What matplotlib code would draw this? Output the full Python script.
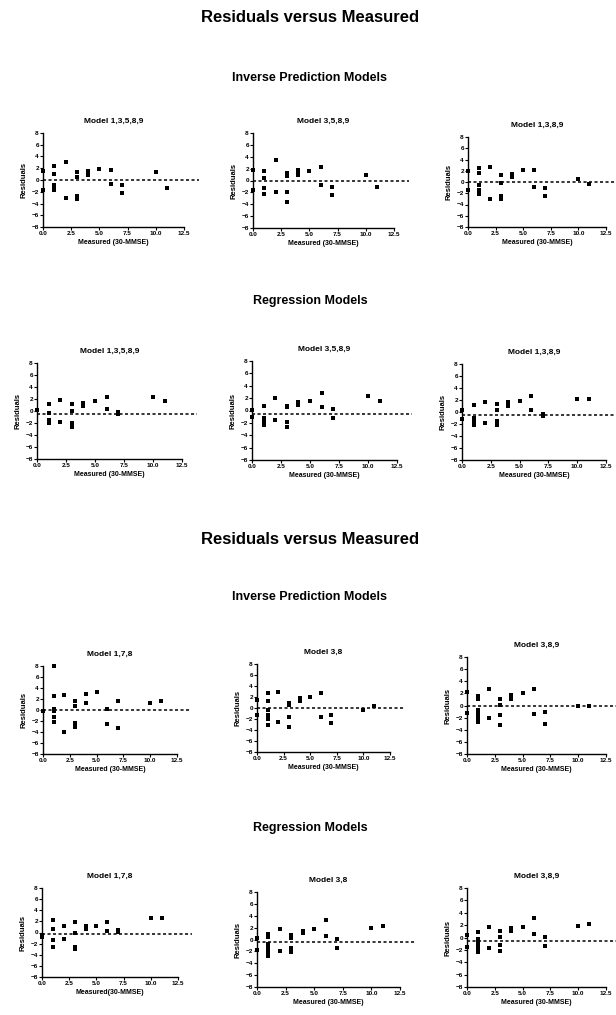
import numpy as np
import matplotlib.pyplot as plt

plt.rcParams['font.family'] = ['Liberation Sans', 'DejaVu Sans']
plt.rcParams['font.weight'] = 'bold'

W, H = 616, 1015

# top block - inverse prediction models
ip_13589_x = [0, 0, 1, 1, 1, 1, 1, 2, 2, 3, 3, 3, 3, 4, 4, 4, 5, 6, 6, 7, 7, 10, 11]
ip_13589_y = [1.5, -1.7, 2.4, 1.1, -0.9, -1.3, -1.7, 3.1, -3.0, 1.4, 0.5, -2.7, -3.2,
              1.5, 1.1, 0.9, 1.9, 1.7, -0.6, -0.9, -2.2, 1.3, -1.3]
ip_3589_x = [0, 0, 1, 1, 1, 1, 2, 2, 3, 3, 3, 3, 4, 4, 4, 5, 6, 6, 7, 7, 10, 11]
ip_3589_y = [1.7, -1.6, 1.6, 0.4, -1.2, -2.3, 3.4, -2.0, 1.2, 0.8, -2.0, -3.6,
             1.7, 1.2, 0.9, 1.6, 2.2, -0.8, -1.1, -2.4, 0.9, -1.1]
ip_1389_x = [0, 0, 1, 1, 1, 1, 1, 1, 2, 2, 3, 3, 3, 3, 4, 4, 5, 6, 6, 7, 7, 10, 11]
ip_1389_y = [1.9, -1.5, 2.5, 1.6, -0.5, -1.5, -2.0, -2.1, 2.6, -3.1, 1.3, -0.2, -2.4, -3.0,
             1.4, 0.9, 2.1, 2.1, -0.9, -1.1, -2.4, 0.6, -0.4]

# top block - regression models
rg_13589_x = [0, 1, 1, 1, 1, 2, 2, 3, 3, 3, 3, 4, 4, 5, 6, 6, 7, 7, 10, 11]
rg_13589_y = [0.1, 1.1, -0.3, -1.5, -2.0, 1.8, -1.8, 1.2, 0.0, -2.0, -2.7,
              1.4, 0.9, 1.6, 2.4, 0.3, -0.2, -0.5, 2.3, 1.6]
rg_3589_x = [0, 0, 1, 1, 1, 1, 2, 2, 3, 3, 3, 3, 4, 4, 5, 6, 6, 7, 7, 10, 11]
rg_3589_y = [0.1, -1.0, 0.8, -1.2, -1.8, -2.3, 2.0, -1.6, 0.8, 0.5, -1.8, -2.6,
             1.3, 0.9, 1.6, 2.8, 0.5, 0.2, -1.2, 2.3, 1.6]
rg_1389_x = [0, 0, 1, 1, 1, 1, 2, 2, 3, 3, 3, 3, 4, 4, 5, 6, 6, 7, 7, 10, 11]
rg_1389_y = [0.3, -1.2, 1.2, -1.0, -1.6, -2.1, 1.6, -1.8, 1.35, 0.3, -1.5, -2.2,
             1.6, 1.0, 1.85, 2.7, 0.3, -0.3, -0.6, 2.2, 2.2]

# bottom block - inverse prediction models
ip_178_x = [0, 1, 1, 1, 1, 1, 1, 2, 2, 3, 3, 3, 3, 4, 4, 5, 6, 6, 7, 7, 10, 11]
ip_178_y = [-0.1, 8.0, 2.5, 0.1, -0.2, -1.2, -2.1, 2.7, -4.0, 1.7, 0.8, -2.4, -3.0,
            2.9, 1.2, 3.3, 0.2, -2.6, 1.6, -3.2, 1.3, 1.6]
ip_38_x = [0, 0, 1, 1, 1, 1, 1, 1, 1, 2, 2, 3, 3, 3, 3, 4, 4, 5, 6, 6, 7, 7, 10, 11]
ip_38_y = [1.5, -1.2, 2.7, 1.3, -0.3, -1.2, -1.6, -2.0, -3.1, 2.9, -2.6, 1.0, 0.6, -1.7, -3.4,
           1.8, 1.2, 2.0, 2.7, -1.6, -1.3, -2.7, -0.4, 0.3]
ip_389_x = [0, 0, 1, 1, 1, 1, 1, 1, 1, 2, 2, 3, 3, 3, 3, 4, 4, 5, 6, 6, 7, 7, 10, 11]
ip_389_y = [2.2, -1.2, 1.6, 1.0, -0.7, -1.3, -1.7, -2.1, -2.7, 2.8, -2.1, 1.0, 0.1, -1.5, -3.2,
            1.7, 1.0, 2.0, 2.8, -1.4, -1.1, -3.0, 0.0, 0.0]

# bottom block - regression models
rg_178_x = [0, 0, 1, 1, 1, 1, 2, 2, 3, 3, 3, 3, 4, 4, 5, 6, 6, 7, 7, 10, 11]
rg_178_y = [-0.4, -0.8, 2.3, 0.7, -1.4, -2.6, 1.1, -1.2, 1.8, 0.0, -2.6, -3.0,
            1.1, 0.7, 1.1, 1.8, 0.2, 0.4, 0.1, 2.6, 2.6]
rg_38_x = [0, 0, 1, 1, 1, 1, 1, 1, 1, 2, 2, 3, 3, 3, 3, 4, 4, 5, 6, 6, 7, 7, 10, 11]
rg_38_y = [0.2, -1.7, 0.85, 0.4, -0.8, -1.3, -1.7, -2.2, -2.7, 1.8, -2.0, 0.7, 0.3, -1.4, -2.1,
           1.4, 1.1, 1.8, 3.3, 0.6, 0.05, -1.35, 2.0, 2.2]
rg_389_x = [0, 0, 1, 1, 1, 1, 1, 1, 1, 2, 2, 3, 3, 3, 3, 4, 4, 5, 6, 6, 7, 7, 10, 11]
rg_389_y = [0.4, -1.6, 0.9, -0.3, -0.65, -1.0, -1.5, -1.9, -2.3, 1.7, -1.7, 1.0, 0.1, -1.25, -2.2,
            1.5, 1.1, 1.7, 3.2, 0.5, 0.1, -1.4, 1.9, 2.2]

# dashed reference line (mean residual) per panel
ref_levels = [0, 0, 0, -0.5, -0.5, -0.5, 0, 0, 0, -0.35, -0.45, -0.55]

x_ticks = [0, 2.5, 5, 7.5, 10, 12.5]
y_ticks = [-8, -6, -4, -2, 0, 2, 4, 6, 8]

fig = plt.figure(figsize=(W / 100, H / 100), dpi=100)


def panel(rect, title, xs, ys, ref, xlabel="Measured (30-MMSE)"):
    l, t, r, b = rect
    ax = fig.add_axes([l / W, 1 - b / H, (r - l) / W, (b - t) / H])
    ax.plot([0, 13.8], [ref, ref], color='black', ls=(0, (2, 1.6)), lw=1.1, clip_on=False)
    ax.plot(xs, ys, 's', color='black', ms=2.7, mew=0, clip_on=False)
    ax.set_xlim(0, 12.5)
    ax.set_ylim(-8, 8)
    ax.set_xticks(x_ticks)
    ax.set_xticklabels(["%.1f" % v for v in x_ticks])
    ax.set_yticks(y_ticks)
    for s in ['top', 'right']:
        ax.spines[s].set_visible(False)
    for s in ['left', 'bottom']:
        ax.spines[s].set_linewidth(1.0)
    ax.tick_params(length=2, width=0.8, labelsize=4.6, pad=1)
    ax.set_title(title, fontsize=6, fontweight='bold', pad=7)
    ax.set_xlabel(xlabel, fontsize=5, fontweight='bold', labelpad=2)
    ax.set_ylabel("Residuals", fontsize=5.5, fontweight='bold', labelpad=3)
    return ax


def header(y, text, size):
    fig.text(0.503, 1 - y / H, text, ha='center', va='center', fontsize=size, fontweight='bold')


header(18, "Residuals versus Measured", 12)
header(78, "Inverse Prediction Models", 9)
header(301, "Regression Models", 9)
header(540, "Residuals versus Measured", 12)
header(597, "Inverse Prediction Models", 9)
header(828, "Regression Models", 9)

panel((43, 133, 184, 227), "Model 1,3,5,8,9", ip_13589_x, ip_13589_y, ref_levels[0])
panel((253, 133, 394, 228), "Model 3,5,8,9", ip_3589_x, ip_3589_y, ref_levels[1])
panel((468, 137, 606, 227), "Model 1,3,8,9", ip_1389_x, ip_1389_y, ref_levels[2])

panel((37, 363, 182, 459), "Model 1,3,5,8,9", rg_13589_x, rg_13589_y, ref_levels[3])
panel((252, 361, 397, 460), "Model 3,5,8,9", rg_3589_x, rg_3589_y, ref_levels[4])
panel((462, 364, 606, 460), "Model 1,3,8,9", rg_1389_x, rg_1389_y, ref_levels[5])

panel((43, 666, 177, 754), "Model 1,7,8", ip_178_x, ip_178_y, ref_levels[6])
panel((257, 664, 390, 752), "Model 3,8", ip_38_x, ip_38_y, ref_levels[7])
panel((467, 657, 606, 754), "Model 3,8,9", ip_389_x, ip_389_y, ref_levels[8])

panel((42, 888, 178, 977), "Model 1,7,8", rg_178_x, rg_178_y, ref_levels[9], "Measured(30-MMSE)")
panel((257, 892, 400, 987), "Model 3,8", rg_38_x, rg_38_y, ref_levels[10])
panel((467, 888, 606, 987), "Model 3,8,9", rg_389_x, rg_389_y, ref_levels[11])

fig.savefig("out.png", dpi=100)
